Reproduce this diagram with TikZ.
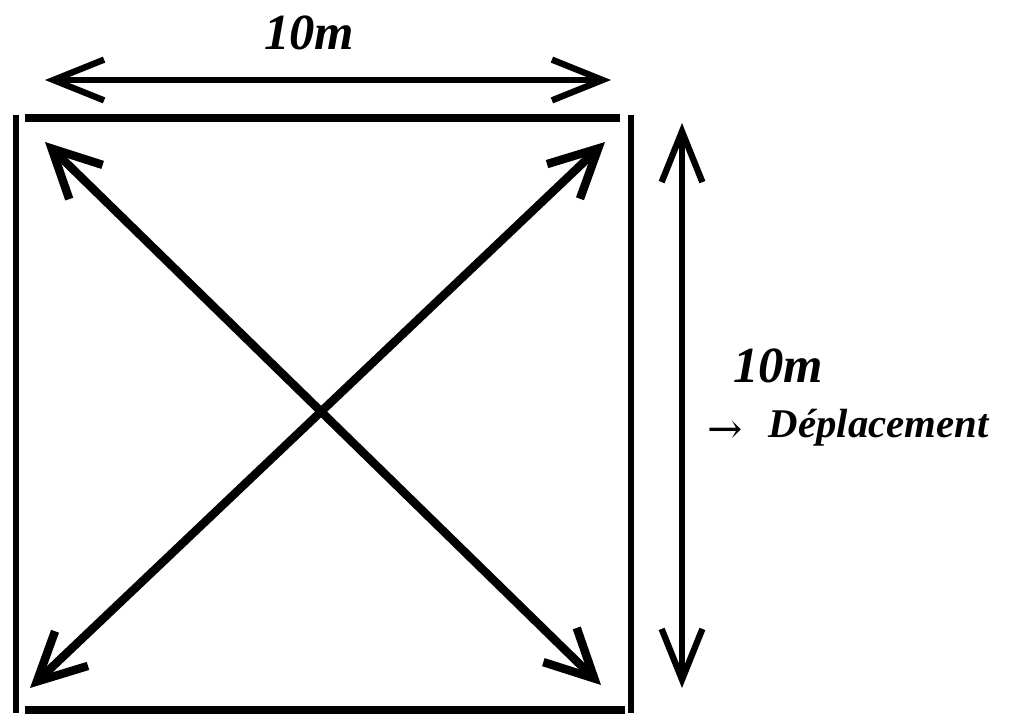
\documentclass[tikz,border=0pt]{standalone}
\usepackage{fontspec}
\setmainfont{Liberation Serif}
\newfontfamily\arrowfont{DejaVu Serif}
\usetikzlibrary{arrows.meta}

\begin{document}
\begin{tikzpicture}[
    x=0.025cm, y=-0.025cm,
    side/.style={draw=black, line width=4pt},
    rim/.style={draw=black, line width=6pt},
    diag/.style={draw=black, line width=6pt, line cap=round, {Straight Barb[length=34pt, width=34pt]}-{Straight Barb[length=34pt, width=34pt]}},
    measure/.style={draw=black, line width=#1, line cap=round, {Straight Barb[length=36pt, width=29pt]}-{Straight Barb[length=36pt, width=29pt]}},
    dimtext/.style={font=\fontsize{36}{40}\selectfont\bfseries\itshape},
]
\useasboundingbox (0,0) rectangle (1013,713);

% Positions
\coordinate (sq_tl) at (16,115);
\coordinate (sq_bl) at (16,713);
\coordinate (sq_tr) at (631,115);
\coordinate (sq_br) at (631,713);
\coordinate (top_a) at (25,118);
\coordinate (top_b) at (620,118);
\coordinate (bot_a) at (25,710);
\coordinate (bot_b) at (625,710);
\coordinate (d1a) at (45,142);
\coordinate (d1b) at (601,685);
\coordinate (d2a) at (605,142);
\coordinate (d2b) at (30,688);
\coordinate (wa) at (45,80);
\coordinate (wb) at (611,80);
\coordinate (ha) at (682,123);
\coordinate (hb) at (682,688);

% Square
\draw[side] (sq_tl) -- (sq_bl);
\draw[side] (sq_tr) -- (sq_br);
\draw[rim] (top_a) -- (top_b);
\draw[rim] (bot_a) -- (bot_b);

% Diagonals
\draw[diag] (d1a) -- (d1b);
\draw[diag] (d2a) -- (d2b);

% Dimensions
\draw[measure=4.5pt] (wa) -- (wb);
\draw[measure=4.5pt] (ha) -- (hb);

% Labels
\node[dimtext] (wlabel) at (309,33) {10m};
\node[dimtext] (hlabel) at (778,366) {10m};
\node[font=\fontsize{30}{32}\selectfont\arrowfont] (arr) at (725,432) {→};
\node[font=\fontsize{29}{32}\selectfont\bfseries\itshape, anchor=west] (move) at (764,428) {Déplacement};

\end{tikzpicture}
\end{document}
